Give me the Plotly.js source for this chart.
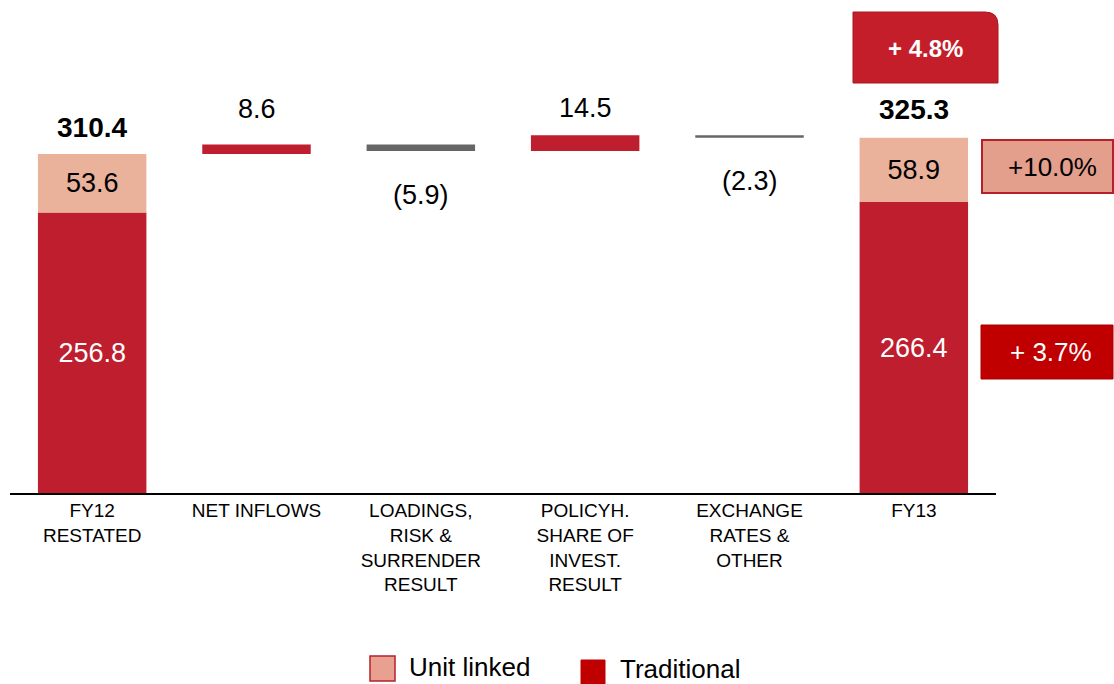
<!DOCTYPE html>
<html>
<head>
<meta charset="utf-8">
<script src="https://cdn.plot.ly/plotly-3.0.1.min.js"></script>
<style>html,body{margin:0;padding:0;background:#fff;}#chart{width:1114px;height:684px;}</style>
</head>
<body>
<div id="chart"></div>
<script>
// ---- data ----
const categories = ['FY12<br>RESTATED', 'NET INFLOWS', 'LOADINGS,<br>RISK &<br>SURRENDER<br>RESULT', 'POLICYH.<br>SHARE OF<br>INVEST.<br>RESULT', 'EXCHANGE<br>RATES &<br>OTHER', 'FY13'];
const totalCats = [0, 5];                 // index of FY12 and FY13 in categories
const traditional = [256.8, 266.4];       // FY12, FY13
const unitLinked = [53.6, 58.9];          // FY12, FY13
const totals = [310.4, 325.3];            // FY12, FY13
const deltaCats = [1, 2, 3, 4];
const deltas = [8.6, -5.9, 14.5, -2.3];
const deltaLabels = ['8.6', '(5.9)', '14.5', '(2.3)'];
const growthLabels = ['+ 4.8%', '+10.0%', '+ 3.7%']; // total, unit linked, traditional

// ---- styles ----
const FONT = 'Liberation Sans, Arial, sans-serif';
const RED = '#BE1E2D';
const SALMON = '#EAB19B';
const GRAY = '#666666';
const BAR_W = 0.66;
const VAL_SIZE = 27;

// delta bar bases (cumulative from FY12 total)
const deltaBase = [];
let run = totals[0];
deltas.forEach(d => { deltaBase.push(run); run += d; });

const traces = [
  {
    type: 'bar', name: 'Traditional', x: totalCats, y: traditional, width: BAR_W,
    marker: {color: RED, line: {width: 0}},
    text: traditional.map(v => v.toFixed(1)), textposition: 'inside', insidetextanchor: 'middle',
    textangle: 0, constraintext: 'none',
    textfont: {family: FONT, size: VAL_SIZE, color: '#ffffff'}, hoverinfo: 'skip'
  },
  {
    type: 'bar', name: 'Unit linked', x: totalCats, y: unitLinked, base: traditional, width: BAR_W,
    marker: {color: SALMON, line: {width: 0}},
    text: unitLinked.map(v => v.toFixed(1)), textposition: 'inside', insidetextanchor: 'middle',
    textangle: 0, constraintext: 'none',
    textfont: {family: FONT, size: VAL_SIZE, color: '#000000'}, hoverinfo: 'skip'
  },
  {
    type: 'bar', name: 'Change', x: deltaCats, y: deltas, base: deltaBase, width: BAR_W,
    marker: {color: deltas.map(d => d >= 0 ? RED : GRAY), line: {width: 0}},
    hoverinfo: 'skip'
  }
];

// plot geometry (pixels)
const W = 1114, H = 684;
const M = {l: 10, r: 118, t: 10, b: 191};
const PW = W - M.l - M.r, PH = H - M.t - M.b;
const px = x => (x - M.l) / PW;
const py = y => (H - M.b - y) / PH;

const annotations = [];
// totals
const totalShift = [27, 28];
totalCats.forEach((c, i) => annotations.push({
  x: c, y: totals[i], xref: 'x', yref: 'y', text: '<b>' + totals[i].toFixed(1) + '</b>',
  showarrow: false, yanchor: 'middle', yshift: totalShift[i],
  font: {family: FONT, size: 28, color: '#000'}
}));
// deltas
const deltaShift = [36, -44, 27, -43];
deltaCats.forEach((c, i) => {
  const edge = deltaBase[i] + deltas[i];
  annotations.push({
    x: c, y: edge, xref: 'x', yref: 'y', text: deltaLabels[i],
    showarrow: false, yanchor: 'middle', yshift: deltaShift[i],
    font: {family: FONT, size: VAL_SIZE, color: '#000'}
  });
});
// growth boxes text
annotations.push({xref: 'paper', yref: 'paper', x: px(925), y: py(48), text: '<b>' + growthLabels[0] + '</b>',
  showarrow: false, xanchor: 'center', yanchor: 'middle', font: {family: FONT, size: 24, color: '#fff'}});
annotations.push({xref: 'paper', yref: 'paper', x: px(1052), y: py(167), text: growthLabels[1],
  showarrow: false, xanchor: 'center', yanchor: 'middle', font: {family: FONT, size: 26, color: '#000'}});
annotations.push({xref: 'paper', yref: 'paper', x: px(1051), y: py(352), text: growthLabels[2],
  showarrow: false, xanchor: 'center', yanchor: 'middle', font: {family: FONT, size: 26, color: '#fff'}});
// legend text
annotations.push({xref: 'paper', yref: 'paper', x: px(407), y: py(667), text: 'Unit linked',
  showarrow: false, xanchor: 'left', yanchor: 'middle', font: {family: FONT, size: 26, color: '#000'}});
annotations.push({xref: 'paper', yref: 'paper', x: px(618), y: py(669), text: 'Traditional',
  showarrow: false, xanchor: 'left', yanchor: 'middle', font: {family: FONT, size: 26, color: '#000'}});

// rounded box path (top-right corner rounded)
function roundedTR(x0, y0, x1, y1, r) {
  return 'M ' + px(x0) + ',' + py(y1) +
    ' L ' + px(x0) + ',' + py(y0) +
    ' L ' + px(x1 - r) + ',' + py(y0) +
    ' Q ' + px(x1) + ',' + py(y0) + ' ' + px(x1) + ',' + py(y0 + r) +
    ' L ' + px(x1) + ',' + py(y1) + ' Z';
}

const shapes = [
  {type: 'path', xref: 'paper', yref: 'paper', path: roundedTR(853, 12, 998, 83, 13),
   fillcolor: '#C41E2A', line: {color: '#A8161F', width: 1}},
  {type: 'rect', xref: 'paper', yref: 'paper', x0: px(982), x1: px(1113), y0: py(140), y1: py(193),
   fillcolor: '#E49E8C', line: {color: '#B5202A', width: 2}},
  {type: 'rect', xref: 'paper', yref: 'paper', x0: px(981), x1: px(1113), y0: py(325), y1: py(379),
   fillcolor: '#C00000', line: {color: '#A80000', width: 1}},
  // legend swatches
  {type: 'rect', xref: 'paper', yref: 'paper', x0: px(370), x1: px(395), y0: py(656), y1: py(681),
   fillcolor: '#E8A090', line: {color: '#B5202A', width: 1.5}},
  {type: 'rect', xref: 'paper', yref: 'paper', x0: px(581), x1: px(605), y0: py(660), y1: py(684),
   fillcolor: '#C00000', line: {color: '#C00000', width: 1}}
];

const layout = {
  width: W, height: H,
  margin: M,
  paper_bgcolor: '#fff', plot_bgcolor: '#fff',
  barmode: 'overlay',
  showlegend: false,
  font: {family: FONT, color: '#000'},
  xaxis: {
    range: [-0.5, 5.5], tickvals: [0, 1, 2, 3, 4, 5], ticktext: categories,
    showline: true, linecolor: '#000', linewidth: 1.5, showgrid: false, zeroline: false,
    ticks: '', tickfont: {family: FONT, size: 19, color: '#000'}, fixedrange: true
  },
  yaxis: {
    range: [0, PH / 1.0921], visible: false, showgrid: false, zeroline: false, fixedrange: true
  },
  annotations: annotations,
  shapes: shapes
};

Plotly.newPlot('chart', traces, layout, {staticPlot: true, displayModeBar: false});
</script>
</body>
</html>
